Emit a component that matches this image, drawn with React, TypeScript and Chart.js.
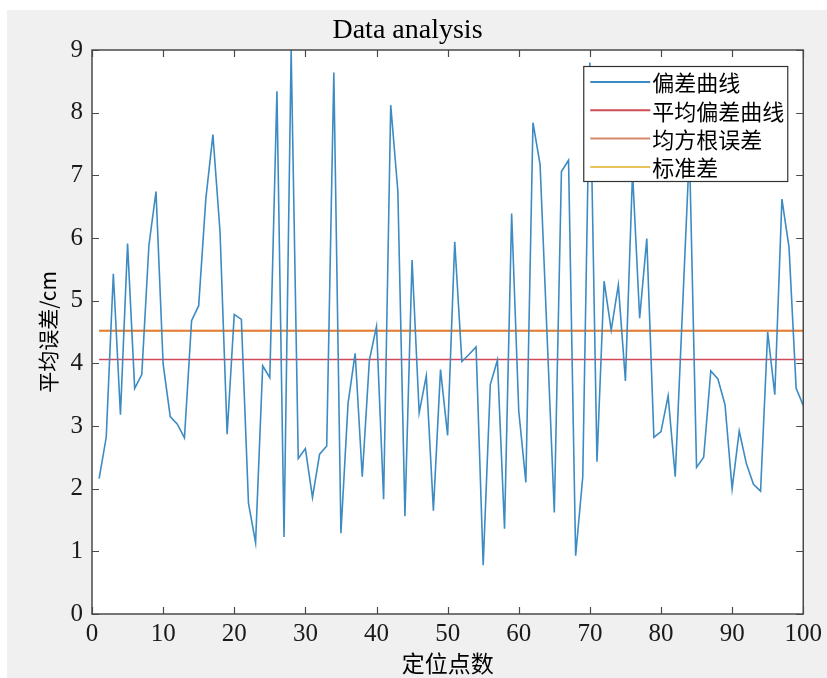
import React, { useEffect, useRef } from "react";
import { Chart, registerables } from "chart.js";

Chart.register(...registerables);

const xValues: number[] = Array.from({ length: 100 }, (_, i) => i + 1);

const deviation: number[] = [
  2.16, 2.82, 5.43, 3.18, 5.91, 3.6, 3.82, 5.88, 6.74, 3.99,
  3.15, 3.03, 2.81, 4.68, 4.92, 6.62, 7.65, 6.1, 2.87, 4.78,
  4.7, 1.77, 1.14, 3.96, 3.77, 8.34, 1.23, 9.0, 2.48, 2.64,
  1.86, 2.55, 2.68, 8.64, 1.29, 3.36, 4.16, 2.19, 4.05, 4.59,
  1.83, 8.12, 6.75, 1.56, 5.65, 3.21, 3.8, 1.65, 3.9, 2.85,
  5.94, 4.03, 4.14, 4.26, 0.78, 3.66, 4.05, 1.36, 6.39, 3.24,
  2.1, 7.84, 7.17, 4.4, 1.62, 7.06, 7.24, 0.93, 2.19, 8.8,
  2.43, 5.31, 4.53, 5.25, 3.72, 7.05, 4.72, 5.99, 2.82, 2.91,
  3.48, 2.19, 4.8, 7.4, 2.34, 2.5, 3.88, 3.75, 3.34, 2.0,
  2.92, 2.4, 2.07, 1.96, 4.5, 3.5, 6.62, 5.85, 3.6, 3.33,
];

const meanDeviation = 4.06;
const rmsError = 4.52;
const stdDeviation = 4.52;

const seriesLabels: string[] = ["偏差曲线", "平均偏差曲线", "均方根误差", "标准差"];
const xTicks: number[] = [0, 10, 20, 30, 40, 50, 60, 70, 80, 90, 100];
const yTicks: number[] = [0, 1, 2, 3, 4, 5, 6, 7, 8, 9];

const chartTitle = "Data analysis";
const xTitle = "定位点数";
const yTitle = "平均误差/cm";

const SERIF = "'Liberation Serif', 'DejaVu Serif', serif";
const CJK = "'Noto Sans CJK SC', sans-serif";

const framePlugin = {
  id: "framePlugin",
  beforeDatasetsDraw(chart: any) {
    const { ctx, chartArea } = chart;
    ctx.save();
    ctx.fillStyle = "#ffffff";
    ctx.fillRect(chartArea.left, chartArea.top, chartArea.right - chartArea.left, chartArea.bottom - chartArea.top);
    ctx.restore();
  },
  afterDatasetsDraw(chart: any) {
    const { ctx, chartArea, scales } = chart;
    const { left, right, top, bottom } = chartArea;
    ctx.save();
    ctx.strokeStyle = "#4a4a4a";
    ctx.lineWidth = 1.2;
    const tl = 7;
    ctx.beginPath();
    for (const v of xTicks) {
      const x = Math.round(scales.x.getPixelForValue(v)) + 0.5;
      ctx.moveTo(x, bottom);
      ctx.lineTo(x, bottom - tl);
      ctx.moveTo(x, top);
      ctx.lineTo(x, top + tl);
    }
    for (const v of yTicks) {
      const y = Math.round(scales.y.getPixelForValue(v)) + 0.5;
      ctx.moveTo(left, y);
      ctx.lineTo(left + tl, y);
      ctx.moveTo(right, y);
      ctx.lineTo(right - tl, y);
    }
    ctx.stroke();
    ctx.lineWidth = 1.5;
    ctx.strokeRect(left, top, right - left, bottom - top);

    // legend box
    const bw = 204;
    const bh = 115;
    const bx = right - 16 - bw;
    const by = top + 16;
    ctx.fillStyle = "#ffffff";
    ctx.fillRect(bx, by, bw, bh);
    ctx.strokeStyle = "#333333";
    ctx.lineWidth = 1.2;
    ctx.strokeRect(bx + 0.5, by + 0.5, bw, bh);
    const rowH = 28.3;
    ctx.font = "22px " + CJK;
    ctx.textBaseline = "middle";
    ctx.textAlign = "left";
    chart.data.datasets.forEach((ds: any, i: number) => {
      const cy = by + 16 + i * rowH;
      ctx.strokeStyle = ds.legendColor || ds.borderColor;
      ctx.lineWidth = 2;
      ctx.beginPath();
      ctx.moveTo(bx + 7, cy);
      ctx.lineTo(bx + 67, cy);
      ctx.stroke();
      ctx.fillStyle = "#000000";
      ctx.fillText(ds.label, bx + 69, cy + 1);
    });
    ctx.restore();
  },
};

export default function App() {
  const canvasRef = useRef<HTMLCanvasElement | null>(null);

  useEffect(() => {
    document.body.style.margin = "0";
    const canvas = canvasRef.current;
    if (!canvas) return;
    const flat = (v: number) => xValues.map((x) => ({ x, y: v }));
    const chart = new Chart(canvas, {
      type: "line",
      data: {
        datasets: [
          {
            label: seriesLabels[0],
            data: xValues.map((x, i) => ({ x, y: deviation[i] })),
            borderColor: "#3d8bc3",
            borderWidth: 1.6,
            pointRadius: 0,
            tension: 0,
          },
          {
            label: seriesLabels[1],
            data: flat(meanDeviation),
            borderColor: "#d0485a",
            legendColor: "#cf4b55",
            borderWidth: 1.6,
            pointRadius: 0,
          },
          {
            label: seriesLabels[2],
            data: flat(rmsError),
            borderColor: "rgba(222,110,40,0.85)",
            legendColor: "#d5876a",
            borderWidth: 2.2,
            pointRadius: 0,
          },
          {
            label: seriesLabels[3],
            data: flat(stdDeviation),
            borderColor: "rgba(240,175,50,0.55)",
            legendColor: "#e8c25a",
            borderWidth: 2.2,
            pointRadius: 0,
          },
        ] as any,
      },
      options: {
        animation: false,
        responsive: false,
        devicePixelRatio: 1,
        layout: { padding: { left: 0, right: 19, top: 0, bottom: 0 } },
        plugins: {
          legend: { display: false },
          tooltip: { enabled: false },
          title: {
            display: true,
            text: chartTitle,
            color: "#000000",
            font: { family: SERIF, size: 28, weight: "normal" },
            padding: { top: 4, bottom: 2.4 },
          },
        },
        scales: {
          x: {
            type: "linear",
            min: 0,
            max: 100,
            grid: { display: false, drawTicks: false },
            border: { display: false },
            afterFit: (scale: any) => {
              scale.height = 64;
            },
            afterBuildTicks: (scale: any) => {
              scale.ticks = xTicks.map((v) => ({ value: v }));
            },
            ticks: {
              color: "#1a1a1a",
              font: { family: SERIF, size: 25 },
              padding: 5,
              maxRotation: 0,
            },
            title: {
              display: true,
              text: xTitle,
              color: "#000000",
              font: { family: CJK, size: 23 },
              padding: { top: 0, bottom: 1 },
            },
          },
          y: {
            type: "linear",
            min: 0,
            max: 9,
            grid: { display: false, drawTicks: false },
            border: { display: false },
            afterFit: (scale: any) => {
              scale.width = 85;
            },
            afterBuildTicks: (scale: any) => {
              scale.ticks = yTicks.map((v) => ({ value: v }));
            },
            ticks: {
              color: "#1a1a1a",
              font: { family: SERIF, size: 25 },
              padding: 9,
            },
            title: {
              display: true,
              text: yTitle,
              color: "#000000",
              font: { family: CJK, size: 21 },
              padding: { top: 28, bottom: 0 },
            },
          },
        },
      } as any,
      plugins: [framePlugin],
    });
    return () => chart.destroy();
  }, []);

  return (
    <div
      style={{
        position: "absolute",
        left: 7,
        top: 10,
        width: 820,
        height: 668,
        background: "#f0f0f0",
      }}
    >
      <canvas ref={canvasRef} width={820} height={668} style={{ display: "block", width: 820, height: 668 }} />
    </div>
  );
}
